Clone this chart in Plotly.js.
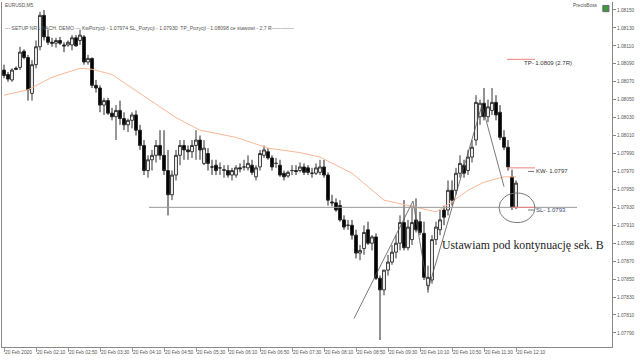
<!DOCTYPE html>
<html><head><meta charset="utf-8">
<script src="https://cdn.plot.ly/plotly-3.0.1.min.js"></script>
<style>html,body{margin:0;padding:0;background:#fff}#chart{width:640px;height:360px}</style>
</head><body><div id="chart"></div>
<script>
const openP = [1.08083,1.08078,1.08072,1.08085,1.08086,1.08104,1.08097,1.08057,1.08089,1.08109,
1.08144,1.08120,1.08114,1.08113,1.08116,1.08111,1.08111,1.08111,1.08119,1.08116,
1.08120,1.08092,1.08096,1.08066,1.08063,1.08044,1.08049,1.08035,1.08031,1.08038,
1.08029,1.08022,1.08027,1.08033,1.08016,1.07999,1.07971,1.07983,1.07988,1.07999,
1.07988,1.07971,1.07944,1.07966,1.07988,1.07999,1.07994,1.07992,1.07999,1.08005,
1.07979,1.07990,1.07975,1.07977,1.07974,1.07971,1.07971,1.07966,1.07966,1.07974,
1.07975,1.07974,1.07977,1.07964,1.07975,1.07988,1.07992,1.07985,1.07979,1.07977,
1.07968,1.07965,1.07971,1.07971,1.07971,1.07975,1.07974,1.07968,1.07968,1.07969,
1.07975,1.07966,1.07936,1.07935,1.07932,1.07916,1.07910,1.07910,1.07899,1.07879,
1.07884,1.07905,1.07890,1.07897,1.07851,1.07838,1.07860,1.07869,1.07880,1.07890,
1.07913,1.07885,1.07894,1.07916,1.07914,1.07901,1.07843,1.07849,1.07894,1.07905,
1.07927,1.07927,1.07949,1.07949,1.07968,1.07977,1.07971,1.07986,1.08005,1.08031,
1.08046,1.08031,1.08038,1.08047,1.08036,1.08008,1.07997,1.07964,1.07930];
const highP = [1.08089,1.08081,1.08085,1.08087,1.08109,1.08106,1.08100,1.08094,1.08116,1.08148,
1.08150,1.08128,1.08119,1.08119,1.08120,1.08114,1.08116,1.08122,1.08122,1.08128,
1.08122,1.08100,1.08097,1.08072,1.08066,1.08052,1.08052,1.08041,1.08044,1.08049,
1.08036,1.08029,1.08036,1.08038,1.08022,1.08005,1.07988,1.07994,1.08005,1.08016,
1.08016,1.07994,1.07971,1.07994,1.08005,1.08005,1.07999,1.08005,1.08016,1.08010,
1.08005,1.07996,1.07983,1.07983,1.07980,1.07977,1.07977,1.07974,1.07977,1.07979,
1.07983,1.07988,1.07983,1.07977,1.07994,1.07999,1.07996,1.07988,1.07985,1.07983,
1.07971,1.07971,1.07977,1.07977,1.07980,1.07979,1.07977,1.07974,1.07979,1.07983,
1.07983,1.07969,1.07944,1.07940,1.07938,1.07921,1.07916,1.07916,1.07905,1.07888,
1.07910,1.07914,1.07899,1.07901,1.07854,1.07860,1.07877,1.07888,1.07899,1.07921,
1.07938,1.07916,1.07932,1.07940,1.07925,1.07914,1.07865,1.07899,1.07914,1.07927,
1.07932,1.07960,1.07960,1.07974,1.07988,1.07983,1.07994,1.08005,1.08055,1.08050,
1.08063,1.08050,1.08063,1.08055,1.08044,1.08016,1.08005,1.07972,1.07960];
const lowP = [1.08074,1.08070,1.08070,1.08083,1.08083,1.08095,1.08049,1.08049,1.08085,1.08105,
1.08116,1.08111,1.08109,1.08108,1.08111,1.08103,1.08109,1.08105,1.08109,1.08111,
1.08089,1.08089,1.08063,1.08058,1.08036,1.08033,1.08033,1.08027,1.08005,1.08022,
1.08016,1.08014,1.08018,1.08010,1.07994,1.07966,1.07963,1.07971,1.07980,1.07983,
1.07966,1.07921,1.07938,1.07960,1.07977,1.07983,1.07983,1.07985,1.07983,1.07983,
1.07977,1.07971,1.07966,1.07966,1.07966,1.07963,1.07963,1.07960,1.07963,1.07969,
1.07971,1.07971,1.07966,1.07960,1.07971,1.07985,1.07983,1.07971,1.07974,1.07964,
1.07960,1.07963,1.07966,1.07966,1.07969,1.07966,1.07966,1.07963,1.07966,1.07966,
1.07963,1.07932,1.07931,1.07925,1.07914,1.07905,1.07905,1.07894,1.07873,1.07871,
1.07877,1.07888,1.07882,1.07849,1.07782,1.07832,1.07854,1.07866,1.07873,1.07882,
1.07882,1.07882,1.07888,1.07902,1.07899,1.07849,1.07835,1.07845,1.07888,1.07899,
1.07910,1.07921,1.07932,1.07944,1.07963,1.07963,1.07966,1.07980,1.07999,1.08022,
1.08027,1.08025,1.08033,1.08027,1.08005,1.07994,1.07971,1.07927,1.07928];
const closeP = [1.08077,1.08073,1.08083,1.08084,1.08103,1.08097,1.08061,1.08089,1.08109,1.08144,
1.08120,1.08114,1.08113,1.08116,1.08113,1.08110,1.08114,1.08119,1.08110,1.08122,
1.08092,1.08096,1.08066,1.08063,1.08044,1.08049,1.08035,1.08031,1.08038,1.08029,
1.08022,1.08027,1.08033,1.08016,1.07999,1.07971,1.07983,1.07988,1.07999,1.07988,
1.07971,1.07944,1.07966,1.07988,1.07999,1.07994,1.07992,1.07999,1.08005,1.07994,
1.07996,1.07979,1.07975,1.07971,1.07974,1.07972,1.07966,1.07971,1.07974,1.07973,
1.07975,1.07979,1.07969,1.07974,1.07990,1.07994,1.07985,1.07975,1.07979,1.07966,
1.07964,1.07969,1.07971,1.07970,1.07975,1.07969,1.07969,1.07968,1.07974,1.07975,
1.07966,1.07938,1.07935,1.07927,1.07916,1.07908,1.07910,1.07899,1.07879,1.07882,
1.07902,1.07890,1.07897,1.07851,1.07838,1.07860,1.07869,1.07880,1.07890,1.07913,
1.07885,1.07908,1.07913,1.07905,1.07902,1.07852,1.07852,1.07894,1.07908,1.07916,
1.07919,1.07949,1.07938,1.07968,1.07979,1.07968,1.07986,1.07997,1.08047,1.08046,
1.08031,1.08042,1.08047,1.08033,1.08008,1.07997,1.07975,1.07930,1.07957];

const xTickBars = [0,8,16,24,32,40,48,56,64,72,80,88,96,104,112,120,128];
const xTickLabels = ["20 Feb 2020","20 Feb 02:10","20 Feb 02:50","20 Feb 03:30","20 Feb 04:10","20 Feb 04:50",
"20 Feb 05:30","20 Feb 06:10","20 Feb 06:50","20 Feb 07:30","20 Feb 08:10","20 Feb 08:50","20 Feb 09:30",
"20 Feb 10:10","20 Feb 10:50","20 Feb 11:30","20 Feb 12:10"];
const yTickVals = [1.08150,1.08130,1.08110,1.08090,1.08070,1.08050,1.08030,1.08010,1.07990,1.07970,
1.07950,1.07930,1.07910,1.07890,1.07870,1.07850,1.07830,1.07810,1.07790];

const maBars = [0,6,12,19,22,27,34,43,49,58,66,74,79,83,87,91,95,99,104,108,112,116,120,123,125,128];
const maVals = [1.08055,1.08061,1.08075,1.08085,1.08084,1.08078,1.08057,1.08030,1.08016,1.08008,1.07996,1.07991,1.07986,1.07977,1.07968,1.07953,1.07938,1.07934,1.07929,1.07925,1.07936,1.07949,1.07958,1.07962,1.07964,1.07964];

const levelSL = 1.07930, levelKW = 1.07974, levelTP = 1.08095;
const zigX = [87.5,102.25,106,119.5,125];
const zigY = [1.07806,1.07937,1.07838,1.08044,1.07953];

const barIdx = openP.map((_, i) => i);

const candle = {
  type: 'candlestick', x: barIdx, open: openP, high: highP, low: lowP, close: closeP,
  increasing: {line: {color: '#333', width: 1}, fillcolor: '#ffffff'},
  decreasing: {line: {color: '#222', width: 1}, fillcolor: '#000000'},
  whiskerwidth: 0, hoverinfo: 'skip', showlegend: false
};
const ma = {type: 'scatter', mode: 'lines', x: maBars, y: maVals,
  line: {color: '#f8b995', width: 1}, hoverinfo: 'skip', showlegend: false};
const zig = {type: 'scatter', mode: 'lines', x: zigX, y: zigY,
  line: {color: '#555', width: 0.8}, hoverinfo: 'skip', showlegend: false};

const tf = {family: 'Liberation Sans, Arial, sans-serif', size: 4.8, color: '#555'};
const hf = {family: 'Liberation Sans, Arial, sans-serif', size: 5.1, color: '#555'};
const lf = {family: 'Liberation Sans, Arial, sans-serif', size: 6, color: '#333'};
const shapes = [
  {type: 'line', xref: 'x', yref: 'y', x0: 36.25, x1: 143.25, y0: levelSL, y1: levelSL, line: {color: '#999', width: 1}},
  {type: 'line', xref: 'x', yref: 'y', x0: 125.75, x1: 132.75, y0: levelTP, y1: levelTP, line: {color: '#f08080', width: 1}},
  {type: 'line', xref: 'x', yref: 'y', x0: 125.75, x1: 132.75, y0: levelKW, y1: levelKW, line: {color: '#f08080', width: 1}},
  {type: 'line', xref: 'x', yref: 'y', x0: 127, x1: 132.75, y0: levelSL, y1: levelSL, line: {color: '#f08080', width: 1}},
  {type: 'line', xref: 'x', yref: 'y', x0: 131, x1: 132.5, y0: 1.07970, y1: 1.07970, line: {color: '#777', width: 1}},
  {type: 'line', xref: 'x', yref: 'y', x0: 131, x1: 132.5, y0: 1.07927, y1: 1.07927, line: {color: '#777', width: 1}},
  {type: 'circle', xref: 'x', yref: 'y', x0: 123.75, x1: 132.75, y0: 1.07913, y1: 1.07946, line: {color: '#777', width: 1}},
  {type: 'rect', xref: 'paper', yref: 'paper', x0: 0.985, x1: 0.995, y0: 0.972, y1: 0.99, fillcolor: '#3c9a3c', line: {color: '#667', width: 1}}
];
const ann = [
  {xref: 'paper', yref: 'paper', x: 0.002, y: 0.991, xanchor: 'left', yanchor: 'middle', showarrow: false, text: 'EURUSD,M5', font: tf},
  {xref: 'paper', yref: 'paper', x: 0.002, y: 0.925, xanchor: 'left', yanchor: 'middle', showarrow: false,
   text: '--- SETUP NR1 NACH. DEMO --- KwPozycji - 1.07974 SL_Pozycji - 1.07930  TP_Pozycji - 1.08098 ce stawowi - 2,7 R-------------', font: hf},
  {xref: 'paper', yref: 'paper', x: 0.98, y: 0.991, xanchor: 'right', yanchor: 'middle', showarrow: false, text: 'PrecisBoss', font: tf},
  {xref: 'x', yref: 'y', x: 129.5, y: 1.08091, xanchor: 'left', yanchor: 'middle', showarrow: false, text: 'TP- 1.0809 (2.7R)', font: lf},
  {xref: 'x', yref: 'y', x: 132.5, y: 1.07970, xanchor: 'left', yanchor: 'middle', showarrow: false, text: 'KW- 1.0797', font: lf},
  {xref: 'x', yref: 'y', x: 132.5, y: 1.07927, xanchor: 'left', yanchor: 'middle', showarrow: false, text: 'SL- 1.0793', font: {family: lf.family, size: 6, color: '#3a4a6a'}},
  {xref: 'paper', yref: 'paper', x: 0.718, y: 0.296, xanchor: 'left', yanchor: 'middle', showarrow: false, text: 'Ustawiam pod kontynuację sek. B', font: {family: 'Liberation Serif, serif', size: 11.8, color: '#222'}}
];

const layout = {
  width: 640, height: 360, margin: {l: 2, r: 28, t: 2, b: 13},
  paper_bgcolor: '#fff', plot_bgcolor: '#fff', showlegend: false,
  boxgap: 0.3, boxgroupgap: 0,
  xaxis: {range: [-0.5, 152], tickmode: 'array', tickvals: xTickBars, ticktext: xTickLabels, tickangle: 0,
    ticks: 'outside', ticklen: 4, tickcolor: '#999', showline: true, linecolor: '#888', linewidth: 1,
    showgrid: false, zeroline: false, tickfont: tf, ticklabelposition: 'outside right',
    rangeslider: {visible: false}, fixedrange: true},
  yaxis: {side: 'right', range: [1.077743, 1.081589], tickmode: 'array', tickvals: yTickVals,
    ticktext: yTickVals.map(v => v.toFixed(5)), ticks: 'outside', ticklen: 3, tickcolor: '#888',
    showline: true, mirror: true, linecolor: '#888', linewidth: 1, showgrid: false, zeroline: false, tickfont: tf},
  shapes: shapes, annotations: ann
};
Plotly.newPlot('chart', [ma, candle, zig], layout, {staticPlot: true, displayModeBar: false});
</script></body></html>
